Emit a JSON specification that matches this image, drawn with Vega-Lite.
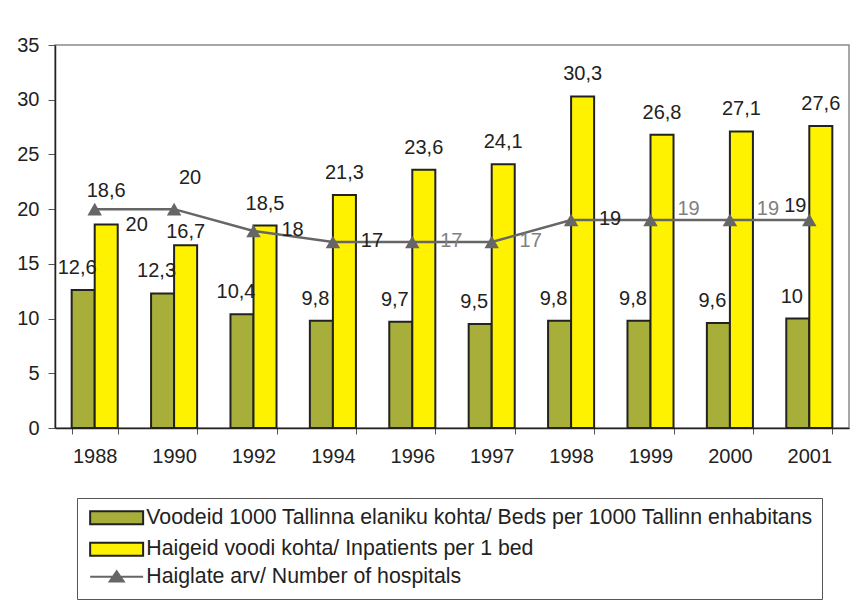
{
  "$schema": "https://vega.github.io/schema/vega-lite/v6.json",
  "width": 794,
  "height": 383,
  "autosize": {"type": "none"},
  "padding": {"left": 55, "top": 45, "right": 7, "bottom": 176},
  "background": "white",
  "config": {
    "locale": {"number": {"decimal": ",", "thousands": " ", "grouping": [3], "currency": ["", ""]}},
    "view": {"stroke": "#8a8a8a", "strokeWidth": 1.5},
    "font": "Liberation Sans",
    "axis": {"labelFont": "Liberation Sans", "labelFontSize": 20, "labelColor": "#222222", "domainColor": "#222222", "domainWidth": 1.5, "tickColor": "#555555", "grid": false, "title": null},
    "text": {"font": "Liberation Sans", "fontSize": 20, "align": "center"}
  },
  "datasets": {
    "bars": [
      {"year": "1988", "series": "Voodeid 1000 Tallinna elaniku kohta/ Beds per 1000 Tallinn enhabitans", "value": 12.6},
      {"year": "1990", "series": "Voodeid 1000 Tallinna elaniku kohta/ Beds per 1000 Tallinn enhabitans", "value": 12.3},
      {"year": "1992", "series": "Voodeid 1000 Tallinna elaniku kohta/ Beds per 1000 Tallinn enhabitans", "value": 10.4},
      {"year": "1994", "series": "Voodeid 1000 Tallinna elaniku kohta/ Beds per 1000 Tallinn enhabitans", "value": 9.8},
      {"year": "1996", "series": "Voodeid 1000 Tallinna elaniku kohta/ Beds per 1000 Tallinn enhabitans", "value": 9.7},
      {"year": "1997", "series": "Voodeid 1000 Tallinna elaniku kohta/ Beds per 1000 Tallinn enhabitans", "value": 9.5},
      {"year": "1998", "series": "Voodeid 1000 Tallinna elaniku kohta/ Beds per 1000 Tallinn enhabitans", "value": 9.8},
      {"year": "1999", "series": "Voodeid 1000 Tallinna elaniku kohta/ Beds per 1000 Tallinn enhabitans", "value": 9.8},
      {"year": "2000", "series": "Voodeid 1000 Tallinna elaniku kohta/ Beds per 1000 Tallinn enhabitans", "value": 9.6},
      {"year": "2001", "series": "Voodeid 1000 Tallinna elaniku kohta/ Beds per 1000 Tallinn enhabitans", "value": 10},
      {"year": "1988", "series": "Haigeid voodi kohta/ Inpatients per 1 bed", "value": 18.6},
      {"year": "1990", "series": "Haigeid voodi kohta/ Inpatients per 1 bed", "value": 16.7},
      {"year": "1992", "series": "Haigeid voodi kohta/ Inpatients per 1 bed", "value": 18.5},
      {"year": "1994", "series": "Haigeid voodi kohta/ Inpatients per 1 bed", "value": 21.3},
      {"year": "1996", "series": "Haigeid voodi kohta/ Inpatients per 1 bed", "value": 23.6},
      {"year": "1997", "series": "Haigeid voodi kohta/ Inpatients per 1 bed", "value": 24.1},
      {"year": "1998", "series": "Haigeid voodi kohta/ Inpatients per 1 bed", "value": 30.3},
      {"year": "1999", "series": "Haigeid voodi kohta/ Inpatients per 1 bed", "value": 26.8},
      {"year": "2000", "series": "Haigeid voodi kohta/ Inpatients per 1 bed", "value": 27.1},
      {"year": "2001", "series": "Haigeid voodi kohta/ Inpatients per 1 bed", "value": 27.6}
    ],
    "hosp": [
      {"year": "1988", "series": "Haiglate arv/ Number of hospitals", "value": 20},
      {"year": "1990", "series": "Haiglate arv/ Number of hospitals", "value": 20},
      {"year": "1992", "series": "Haiglate arv/ Number of hospitals", "value": 18},
      {"year": "1994", "series": "Haiglate arv/ Number of hospitals", "value": 17},
      {"year": "1996", "series": "Haiglate arv/ Number of hospitals", "value": 17},
      {"year": "1997", "series": "Haiglate arv/ Number of hospitals", "value": 17},
      {"year": "1998", "series": "Haiglate arv/ Number of hospitals", "value": 19},
      {"year": "1999", "series": "Haiglate arv/ Number of hospitals", "value": 19},
      {"year": "2000", "series": "Haiglate arv/ Number of hospitals", "value": 19},
      {"year": "2001", "series": "Haiglate arv/ Number of hospitals", "value": 19}
    ]
  },
  "layer": [
    {
      "data": {"name": "bars"},
      "mark": {"type": "bar", "stroke": "#222222", "strokeWidth": 2},
      "encoding": {
        "x": {"field": "year", "type": "ordinal", "scale": {"paddingInner": 0.42, "paddingOuter": 0.21},
              "axis": {"tickBand": "extent", "labelAngle": 0, "tickSize": 6, "labelPadding": 12}},
        "xOffset": {"field": "series", "type": "nominal", "scale": {"domain": ["Voodeid 1000 Tallinna elaniku kohta/ Beds per 1000 Tallinn enhabitans", "Haigeid voodi kohta/ Inpatients per 1 bed"]}},
        "y": {"field": "value", "type": "quantitative", "scale": {"domain": [0, 35], "nice": false},
              "axis": {"values": [0, 5, 10, 15, 20, 25, 30, 35], "tickSize": 7, "labelPadding": 9}},
        "fill": {"field": "series", "type": "nominal",
          "scale": {"domain": ["Voodeid 1000 Tallinna elaniku kohta/ Beds per 1000 Tallinn enhabitans", "Haigeid voodi kohta/ Inpatients per 1 bed"],
                    "range": ["#A8AE3A", "#FFF200"]},
          "legend": {
            "orient": "none", "legendX": 22, "legendY": 453, "title": " ", "titleOrient": "bottom", "titleFontSize": 21, "titlePadding": 8.5,
            "direction": "vertical",
            "fillColor": "white", "strokeColor": "#555555", "padding": 9,
            "labelFont": "Liberation Sans", "labelFontSize": 21.3, "labelColor": "#222222", "labelLimit": 0,
            "symbolType": "M-1,-1H7.15V1H-1Z", "symbolSize": 169, "symbolStrokeColor": "#222222", "symbolStrokeWidth": 2,
            "labelOffset": 39, "rowPadding": 8.5
          }}
      }
    },
    {
      "data": {"name": "hosp"},
      "mark": {"type": "line", "strokeWidth": 2.5, "stroke": "#666666"},
      "encoding": {
        "x": {"field": "year", "type": "ordinal"},
        "y": {"field": "value", "type": "quantitative"}
      }
    },
    {
      "data": {"name": "hosp"},
      "mark": {"type": "point", "shape": "triangle-up", "filled": true, "size": 210, "opacity": 1},
      "encoding": {
        "x": {"field": "year", "type": "ordinal"},
        "y": {"field": "value", "type": "quantitative"},
        "color": {"field": "series", "type": "nominal",
          "scale": {"domain": ["Haiglate arv/ Number of hospitals"], "range": ["#666666"]},
          "legend": {
            "orient": "none", "legendX": 31, "legendY": 521, "title": null, "direction": "vertical", "padding": 0,
            "labelFont": "Liberation Sans", "labelFontSize": 21.3, "labelColor": "#222222", "labelLimit": 0,
            "symbolType": "M-1,-0.15H7.15V0.15H-1ZM3.08,-1.1L4.45,0.9L1.71,0.9Z", "symbolSize": 169, "symbolOpacity": 1,
            "labelOffset": 39
          }}
      }
    },
    {
      "data": {"name": "hosp"},
      "transform": [{"filter": "datum.year == '1988'"}],
      "mark": {"type": "text", "dx": 42, "dy": 16, "baseline": "middle", "color": "#222222"},
      "encoding": {
        "x": {"field": "year", "type": "ordinal"},
        "y": {"field": "value", "type": "quantitative"},
        "text": {"field": "value", "type": "quantitative", "format": ".3~g"}
      }
    },
    {
      "data": {"name": "hosp"},
      "transform": [{"filter": "datum.year == '1990'"}],
      "mark": {"type": "text", "dx": 16, "dy": -31, "baseline": "middle", "color": "#222222"},
      "encoding": {
        "x": {"field": "year", "type": "ordinal"},
        "y": {"field": "value", "type": "quantitative"},
        "text": {"field": "value", "type": "quantitative", "format": ".3~g"}
      }
    },
    {
      "data": {"name": "hosp"},
      "transform": [{"filter": "indexof(['1992','1994','1996','1997','1998'], datum.year) >= 0"}],
      "mark": {"type": "text", "dx": 39, "dy": -1, "baseline": "middle"},
      "encoding": {
        "x": {"field": "year", "type": "ordinal"},
        "y": {"field": "value", "type": "quantitative"},
        "text": {"field": "value", "type": "quantitative", "format": ".3~g"},
        "color": {"condition": {"test": "indexof(['1996','1997'], datum.year) >= 0", "value": "#808080"}, "value": "#222222"}
      }
    },
    {
      "data": {"name": "hosp"},
      "transform": [{"filter": "indexof(['1999','2000'], datum.year) >= 0"}],
      "mark": {"type": "text", "dx": 38, "dy": -11, "baseline": "middle", "color": "#808080"},
      "encoding": {
        "x": {"field": "year", "type": "ordinal"},
        "y": {"field": "value", "type": "quantitative"},
        "text": {"field": "value", "type": "quantitative", "format": ".3~g"}
      }
    },
    {
      "data": {"name": "hosp"},
      "transform": [{"filter": "datum.year == '2001'"}],
      "mark": {"type": "text", "dx": -14, "dy": -14, "baseline": "middle", "color": "#222222"},
      "encoding": {
        "x": {"field": "year", "type": "ordinal"},
        "y": {"field": "value", "type": "quantitative"},
        "text": {"field": "value", "type": "quantitative", "format": ".3~g"}
      }
    },
    {
      "data": {"name": "bars"},
      "transform": [{"filter": "datum.series == 'Voodeid 1000 Tallinna elaniku kohta/ Beds per 1000 Tallinn enhabitans'"}],
      "mark": {"type": "text", "dx": -6, "dy": -12, "baseline": "bottom", "color": "#222222"},
      "encoding": {
        "x": {"field": "year", "type": "ordinal"},
        "xOffset": {"field": "series", "type": "nominal"},
        "y": {"field": "value", "type": "quantitative"},
        "text": {"field": "value", "type": "quantitative", "format": ".3~g"}
      }
    },
    {
      "data": {"name": "bars"},
      "transform": [{"filter": "datum.series == 'Haigeid voodi kohta/ Inpatients per 1 bed' && datum.year != '1988' && datum.year != '1990'"}],
      "mark": {"type": "text", "dy": -12, "baseline": "bottom", "color": "#222222"},
      "encoding": {
        "x": {"field": "year", "type": "ordinal"},
        "xOffset": {"field": "series", "type": "nominal"},
        "y": {"field": "value", "type": "quantitative"},
        "text": {"field": "value", "type": "quantitative", "format": ".3~g"}
      }
    },
    {
      "data": {"name": "bars"},
      "transform": [{"filter": "datum.series == 'Haigeid voodi kohta/ Inpatients per 1 bed' && datum.year == '1988'"}],
      "mark": {"type": "text", "dy": -23, "baseline": "bottom", "color": "#222222"},
      "encoding": {
        "x": {"field": "year", "type": "ordinal"},
        "xOffset": {"field": "series", "type": "nominal"},
        "y": {"field": "value", "type": "quantitative"},
        "text": {"field": "value", "type": "quantitative", "format": ".3~g"}
      }
    },
    {
      "data": {"name": "bars"},
      "transform": [{"filter": "datum.series == 'Haigeid voodi kohta/ Inpatients per 1 bed' && datum.year == '1990'"}],
      "mark": {"type": "text", "dy": -3, "baseline": "bottom", "color": "#222222"},
      "encoding": {
        "x": {"field": "year", "type": "ordinal"},
        "xOffset": {"field": "series", "type": "nominal"},
        "y": {"field": "value", "type": "quantitative"},
        "text": {"field": "value", "type": "quantitative", "format": ".3~g"}
      }
    }
  ]
}
